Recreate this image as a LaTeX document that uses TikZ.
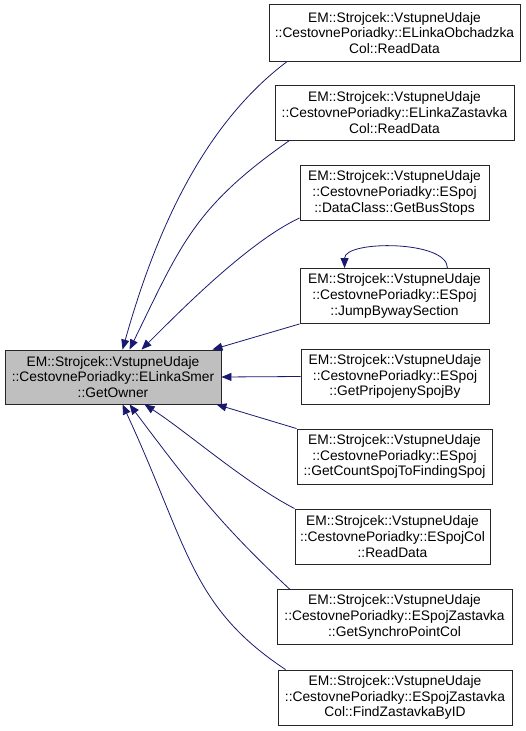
\documentclass[tikz,border=0pt]{standalone}
\usepackage{fontspec}
\setmainfont{Liberation Sans}
\usetikzlibrary{arrows.meta}
\definecolor{edgeblue}{HTML}{191970}
\definecolor{maingray}{HTML}{BFBFBF}
\tikzset{
  box/.style={draw=black!85, line width=0.9pt, fill=white, align=center, inner sep=0pt,
    font=\fontsize{13.8}{15.8}\selectfont, minimum height=55pt},
  mainbox/.style={box, fill=maingray},
  edge/.style={draw=edgeblue, line width=0.8pt, -{Triangle[length=10pt,width=8pt]}},
}
\begin{document}
\begin{tikzpicture}[x=1pt,y=-1pt]
\useasboundingbox (0,0) rectangle (525,731);
\node[mainbox, minimum width=216pt, minimum height=54pt] (M) at (113,377) {EM::Strojcek::VstupneUdaje\\::CestovnePoriadky::ELinkaSmer\\::GetOwner};
\node[box, minimum width=251pt, minimum height=57pt] (N1) at (394.5,33) {EM::Strojcek::VstupneUdaje\\::CestovnePoriadky::ELinkaObchadzka\\Col::ReadData};
\node[box, minimum width=239pt] (N2) at (394.5,112.5) {EM::Strojcek::VstupneUdaje\\::CestovnePoriadky::ELinkaZastavka\\Col::ReadData};
\node[box, minimum width=189pt] (N3) at (394.5,193) {EM::Strojcek::VstupneUdaje\\::CestovnePoriadky::ESpoj\\::DataClass::GetBusStops};
\node[box, minimum width=189pt] (N4) at (394.5,296) {EM::Strojcek::VstupneUdaje\\::CestovnePoriadky::ESpoj\\::JumpBywaySection};
\node[box, minimum width=188pt] (N5) at (395,376.5) {EM::Strojcek::VstupneUdaje\\::CestovnePoriadky::ESpoj\\::GetPripojenySpojBy};
\node[box, minimum width=195pt] (N6) at (394.5,456.5) {EM::Strojcek::VstupneUdaje\\::CestovnePoriadky::ESpoj\\::GetCountSpojToFindingSpoj};
\node[box, minimum width=195pt] (N7) at (392.5,536.5) {EM::Strojcek::VstupneUdaje\\::CestovnePoriadky::ESpojCol\\::ReadData};
\node[box, minimum width=235pt] (N8) at (394.5,617) {EM::Strojcek::VstupneUdaje\\::CestovnePoriadky::ESpojZastavka\\::GetSynchroPointCol};
\node[box, minimum width=234pt] (N9) at (395,697.5) {EM::Strojcek::VstupneUdaje\\::CestovnePoriadky::ESpojZastavka\\Col::FindZastavkaByID};

% edges into the top of the main node
\draw[edge] ([xshift=18pt]N1.south west) .. controls +(-90,68) and +(29,-103) .. ([xshift=118pt]M.north west);
\draw[edge] ([xshift=15pt]N2.south west) .. controls +(-96,67) and +(51,-104) .. ([xshift=125pt]M.north west);
\draw[edge] ([yshift=3pt]N3.south west) .. controls +(-51,24) and +(40,-40) .. ([xshift=137pt]M.north west);
\draw[edge] (N4.south west) -- ([xshift=-9pt]M.north east);
% straight edge
\draw[edge] (N5.west) -- (M.east);
% edges into the bottom of the main node
\draw[edge] (N6.north west) -- ([xshift=-5pt]M.south east);
\draw[edge] (N7.north west) .. controls +(-50,-26) and +(42,27) .. ([xshift=140pt]M.south west);
\draw[edge] ([xshift=13pt]N8.north west) .. controls +(-71,-66) and +(58,77) .. ([xshift=125pt]M.south west);
\draw[edge] ([xshift=8pt]N9.north west) .. controls +(-95,-63) and +(66,143) .. ([xshift=118pt]M.south west);
% self loop
\draw[edge] ([xshift=-42pt]N4.north east) .. controls +(0,-28) and +(0,-28) .. ([xshift=45pt]N4.north west);
\end{tikzpicture}
\end{document}
